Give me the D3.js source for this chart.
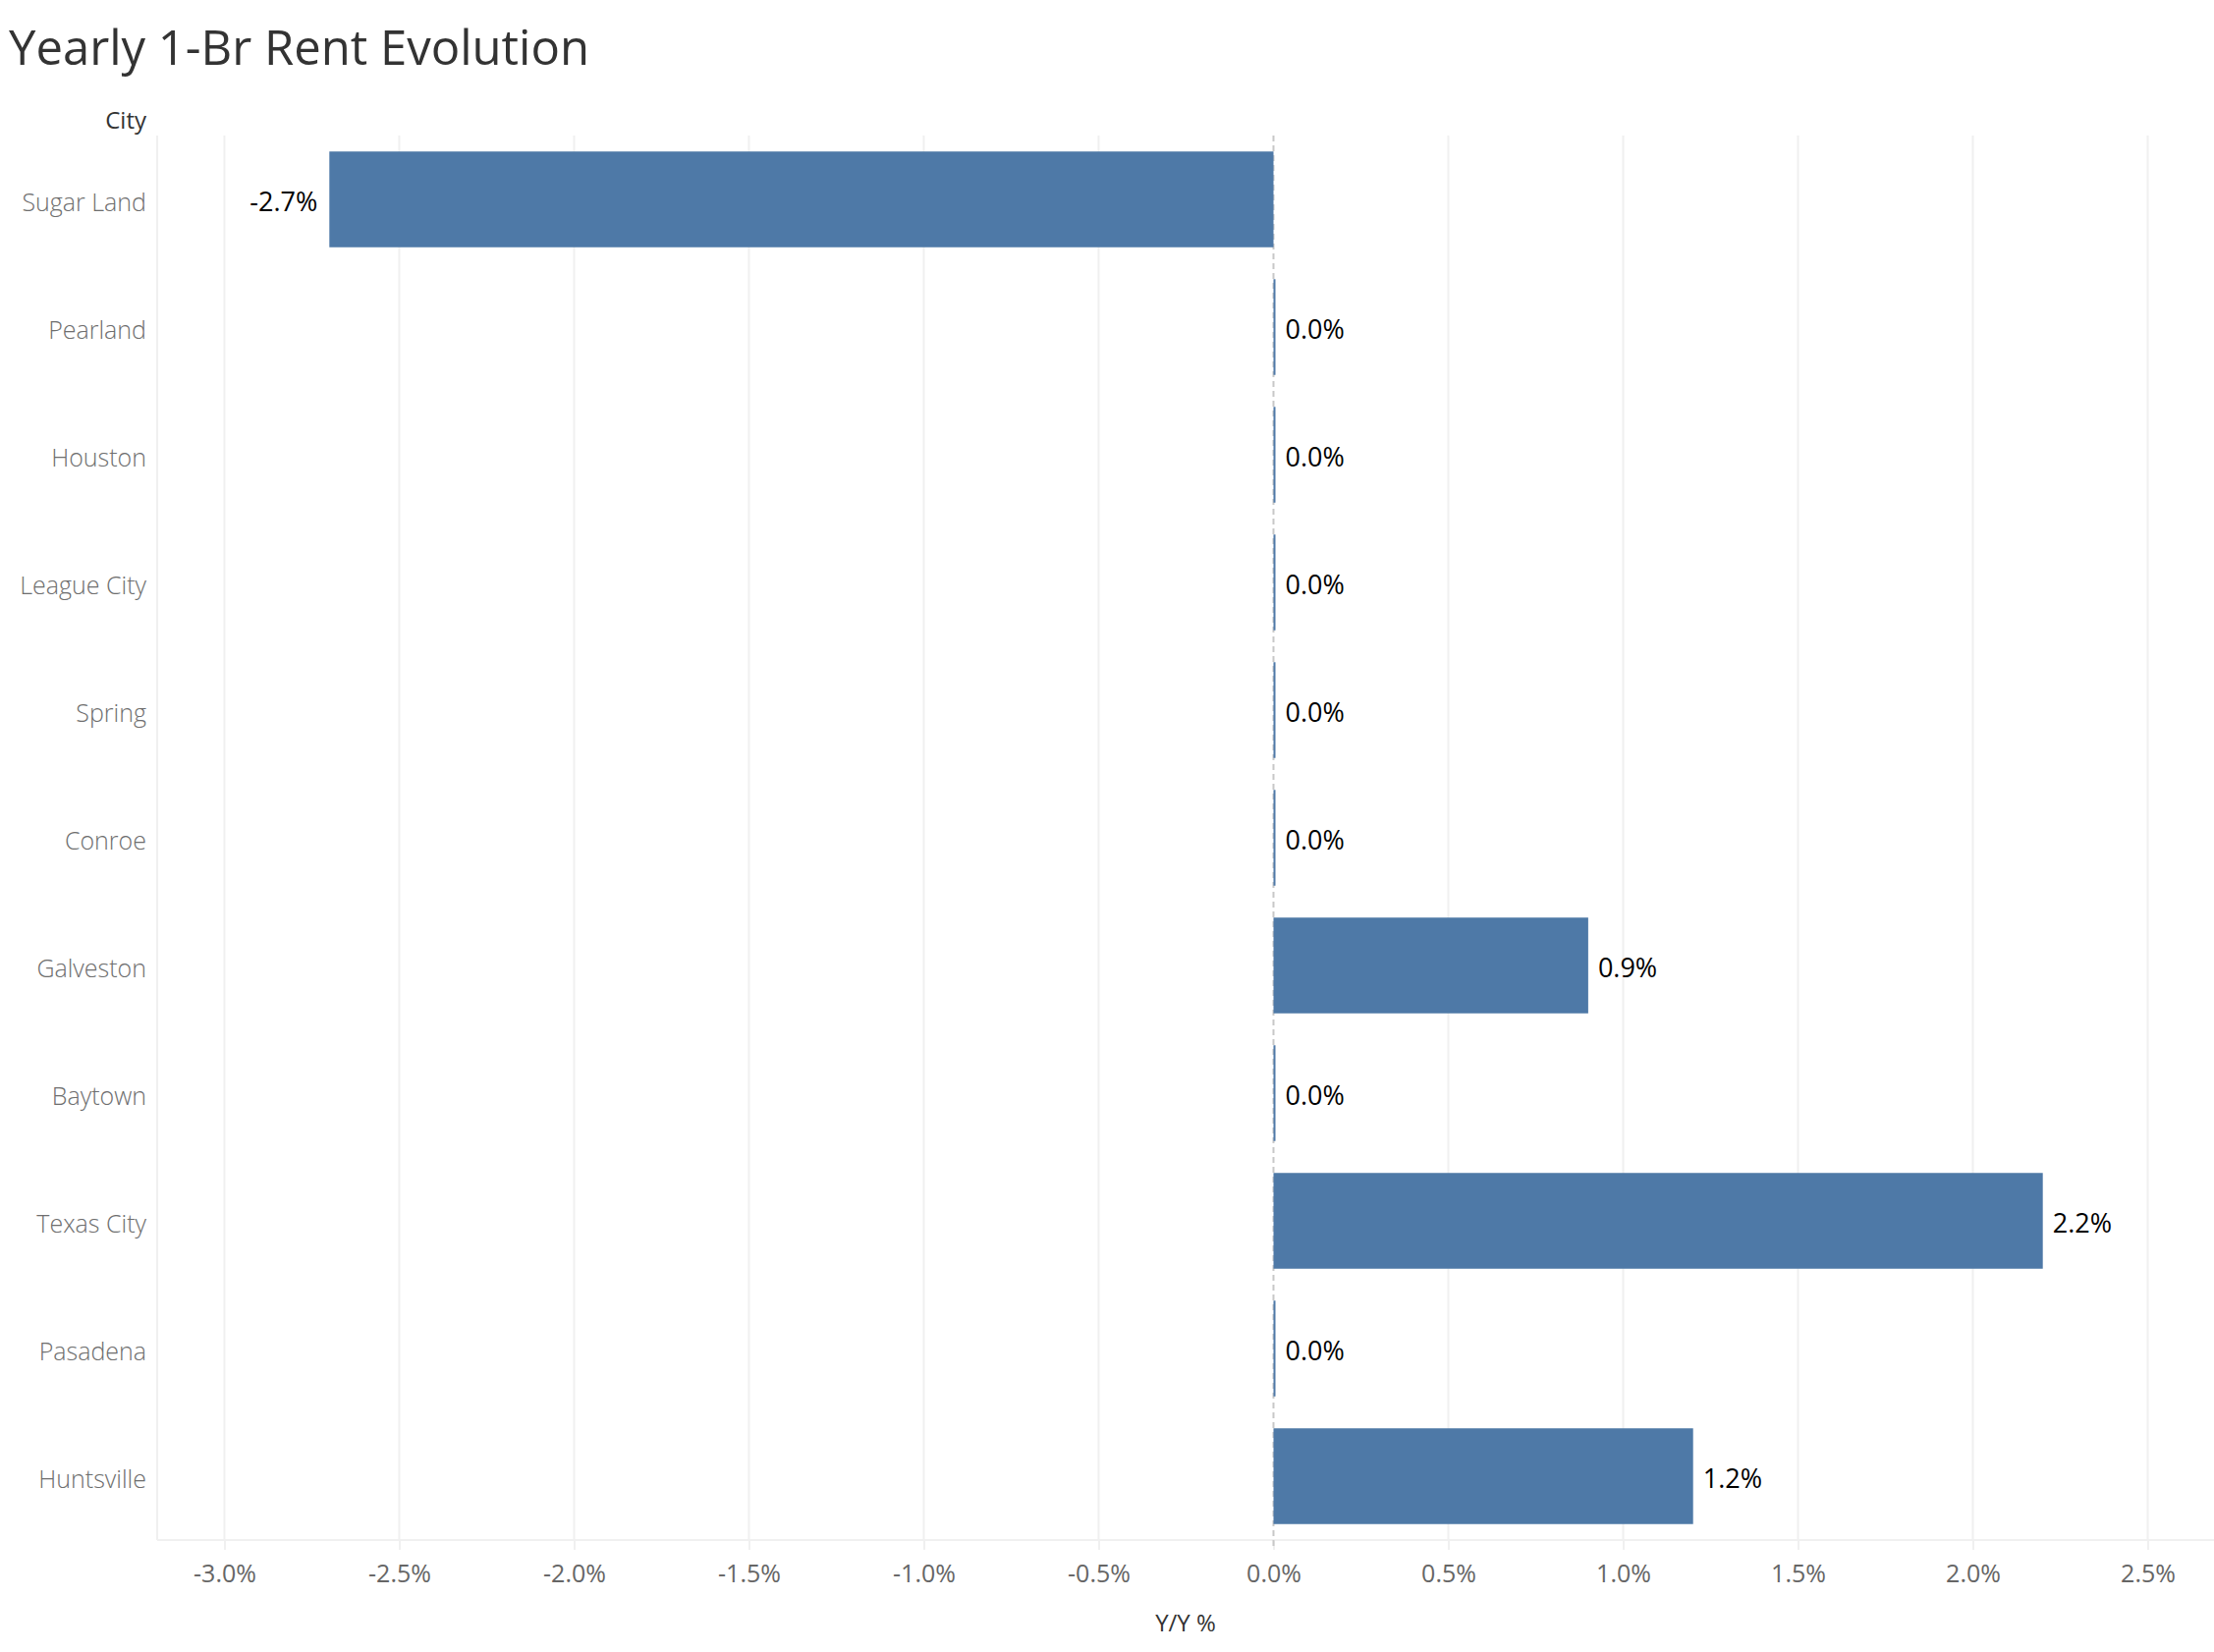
<!DOCTYPE html>
<html>
<head>
<meta charset="utf-8">
<script src="https://cdn.jsdelivr.net/npm/d3@7"></script>
<style>
  html, body { margin: 0; padding: 0; background: #fff; }
  svg { display: block; font-family: "Open Sans", "Noto Sans", sans-serif; }
</style>
</head>
<body>
<svg id="chart" width="2254" height="1682"></svg>
<script>
const cities = ["Sugar Land", "Pearland", "Houston", "League City", "Spring", "Conroe",
                "Galveston", "Baytown", "Texas City", "Pasadena", "Huntsville"];
const yoyValues = [-2.7, 0.0, 0.0, 0.0, 0.0, 0.0, 0.9, 0.0, 2.2, 0.0, 1.2];
const tickValues = [-3.0, -2.5, -2.0, -1.5, -1.0, -0.5, 0.0, 0.5, 1.0, 1.5, 2.0, 2.5];
const tickLabels = ["-3.0%", "-2.5%", "-2.0%", "-1.5%", "-1.0%", "-0.5%", "0.0%", "0.5%", "1.0%", "1.5%", "2.0%", "2.5%"];

const data = cities.map((c, i) => ({ city: c, value: yoyValues[i] }));

const svg = d3.select("#chart");
const plot = { left: 160, right: 2254, top: 138, bottom: 1568 };

const x = d3.scaleLinear().domain([-3.1924, 2.6896]).range([plot.left, plot.right]);
const y = d3.scaleBand().domain(cities).range([plot.top, plot.bottom]).paddingInner(0.25).paddingOuter(0.125);

// Title
svg.append("text")
  .attr("x", 9).attr("y", 66)
  .attr("font-size", 49).attr("fill", "#333333")
  .text("Yearly 1-Br Rent Evolution");

// City header
svg.append("text")
  .attr("x", 149).attr("y", 123).attr("dy", "0.35em")
  .attr("text-anchor", "end").attr("font-size", 24).attr("fill", "#333333")
  .text("City");

const grid = svg.append("g");
grid.selectAll("line.grid").data(tickValues.filter(v => v !== 0)).join("line")
  .attr("class", "grid")
  .attr("x1", d => x(d)).attr("x2", d => x(d))
  .attr("y1", plot.top).attr("y2", plot.bottom)
  .attr("stroke", "#f0f0f0").attr("stroke-width", 2);
grid.append("line")
  .attr("x1", plot.left).attr("x2", plot.left)
  .attr("y1", plot.top).attr("y2", plot.bottom)
  .attr("stroke", "#f0f0f0").attr("stroke-width", 2);

// x axis
const xAxis = d3.axisBottom(x)
  .tickValues(tickValues)
  .tickFormat((d, i) => tickLabels[i])
  .tickSize(10)
  .tickPadding(10);
const ax = svg.append("g")
  .attr("transform", `translate(0,${plot.bottom})`)
  .call(xAxis);
ax.select(".domain").attr("stroke", "#f0f0f0").attr("stroke-width", 2)
  .attr("d", `M${plot.left},0H${plot.right}`);
ax.selectAll(".tick line").attr("stroke", "#f0f0f0").attr("stroke-width", 2);
ax.selectAll(".tick text")
  .attr("font-size", 25).attr("fill", "#666666")
  .attr("font-family", "'Open Sans', sans-serif")
  .attr("y", 25).attr("dy", "0.71em");

// axis title
svg.append("text")
  .attr("x", (plot.left + plot.right) / 2).attr("y", 1653).attr("dy", "0.35em")
  .attr("text-anchor", "middle").attr("font-size", 24).attr("fill", "#333333")
  .text("Y/Y %");

// zero line
svg.append("line")
  .attr("x1", x(0)).attr("x2", x(0))
  .attr("y1", plot.top).attr("y2", plot.bottom + 10)
  .attr("stroke", "#c8c8c8").attr("stroke-width", 2)
  .attr("stroke-dasharray", "6,4");

// bars
svg.append("g").selectAll("rect").data(data).join("rect")
  .attr("x", d => d.value < 0 ? x(d.value) : x(0))
  .attr("y", d => y(d.city))
  .attr("width", d => Math.max(2, Math.abs(x(d.value) - x(0))))
  .attr("height", y.bandwidth())
  .attr("fill", "#4e79a7");

// value labels
svg.append("g").selectAll("text").data(data).join("text")
  .attr("x", d => d.value < 0 ? x(d.value) - 12 : Math.max(x(d.value), x(0) + 2) + 10)
  .attr("y", d => y(d.city) + y.bandwidth() / 2 + 3)
  .attr("dy", "0.35em")
  .attr("text-anchor", d => d.value < 0 ? "end" : "start")
  .attr("font-size", 27).attr("fill", "#000000")
  .text(d => d.value.toFixed(1) + "%");

// category labels
svg.append("g").selectAll("text").data(data).join("text")
  .attr("x", 149)
  .attr("y", d => y(d.city) + y.bandwidth() / 2 + 3)
  .attr("dy", "0.35em")
  .attr("text-anchor", "end")
  .attr("font-size", 25).attr("font-weight", 300).attr("fill", "#6e6e6e")
  .text(d => d.city);
</script>
</body>
</html>
